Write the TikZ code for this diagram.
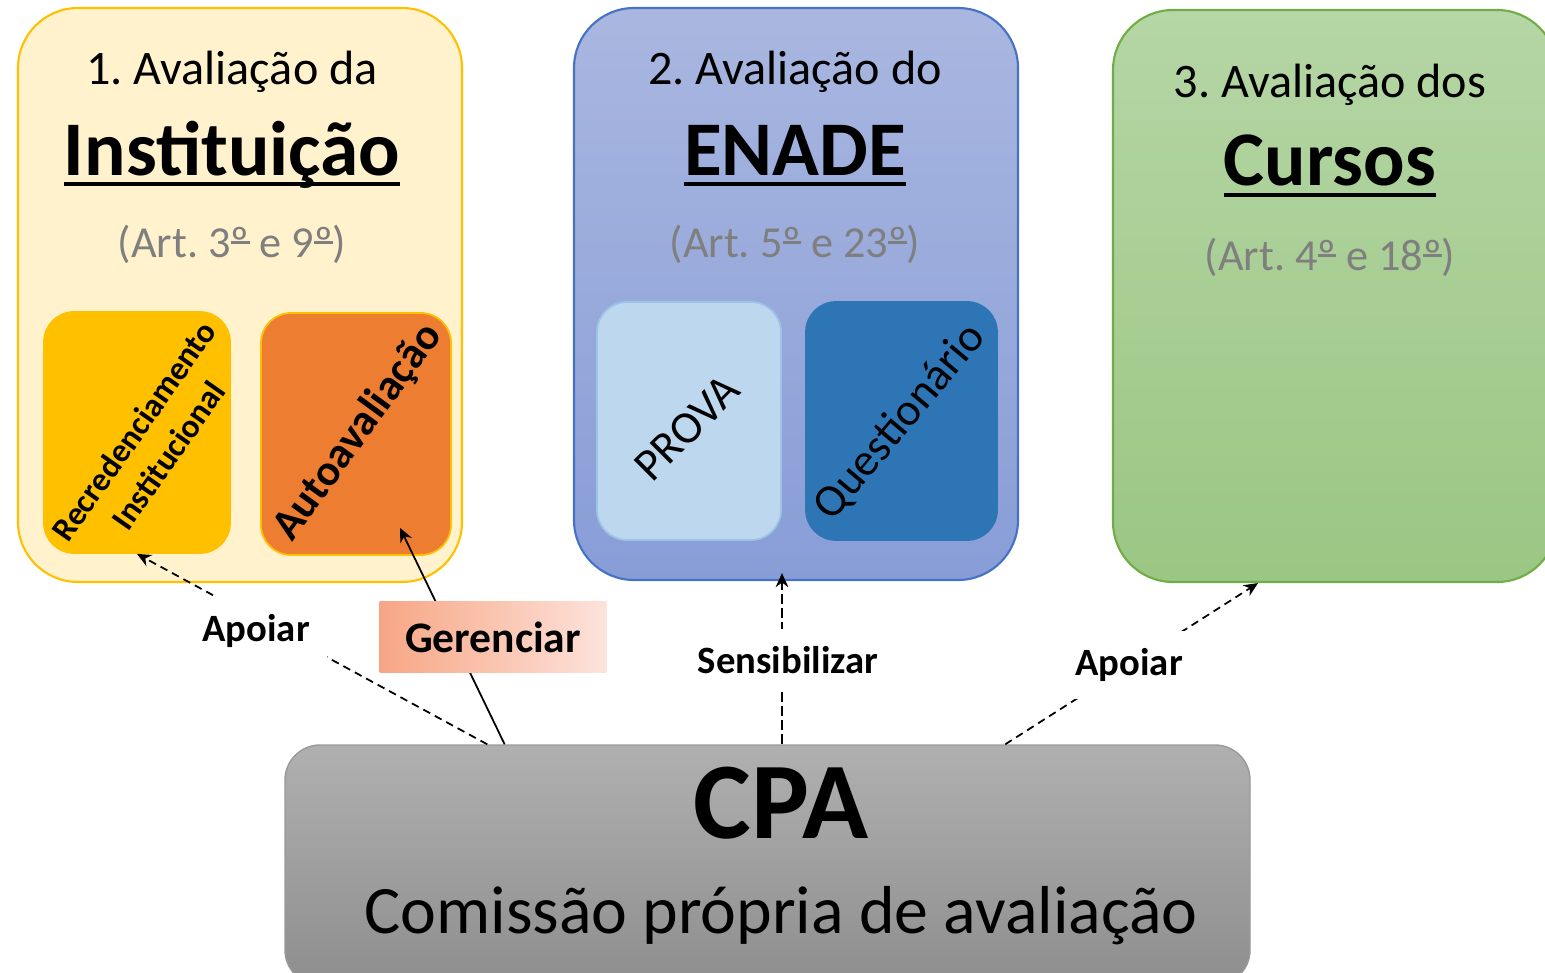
\documentclass[tikz,border=0pt]{standalone}
\usepackage{fontspec}
\setmainfont{Carlito}
\usetikzlibrary{arrows.meta,positioning,calc}
\frenchspacing

\definecolor{instfill}{HTML}{FFF2CC}
\definecolor{instline}{HTML}{FFC000}
\definecolor{autofill}{HTML}{ED7D31}
\definecolor{enadetop}{HTML}{A9B7E0}
\definecolor{enadebot}{HTML}{889DD7}
\definecolor{enadeline}{HTML}{4472C4}
\definecolor{provafill}{HTML}{BDD7EE}
\definecolor{provaline}{HTML}{9DC3E6}
\definecolor{questfill}{HTML}{2E75B6}
\definecolor{curtop}{HTML}{B5D6A5}
\definecolor{curbot}{HTML}{9BC683}
\definecolor{curline}{HTML}{70AD47}
\definecolor{cpatop}{HTML}{B0B0B0}
\definecolor{cpabot}{HTML}{8E8E8E}
\definecolor{artgray}{HTML}{7F7F7F}
\definecolor{gerleft}{HTML}{F7A685}
\definecolor{gerright}{HTML}{FDE3DB}

\newcommand{\thickul}[1]{\sbox0{#1}\rlap{\usebox0}\rule[-3.1pt]{\wd0}{1.15pt}}
% ordinal sign with its bar, as Calibri draws it
\newcommand{\ordo}{\sbox0{º}\rlap{\usebox0}\raisebox{0.30em}{\rule{\wd0}{0.06em}}}

\begin{document}
\begin{tikzpicture}[
  bigbox/.style={rectangle, rounded corners=0.6cm, line width=0.6pt,
    minimum width=4.44cm, minimum height=5.72cm},
  smallbox/.style={rectangle, rounded corners=0.3cm, line width=0.5pt},
  numtitle/.style={anchor=base, font=\fontsize{13.7}{16}\selectfont},
  bigtitle/.style={anchor=base, font=\bfseries\fontsize{22}{26}\selectfont},
  arttext/.style={anchor=base, text=artgray, font=\fontsize{12.6}{15}\selectfont},
  lbl/.style={fill=white, inner sep=5pt, font=\bfseries\fontsize{11}{13}\selectfont},
  gerbox/.style={rectangle, left color=gerleft, right color=gerright,
    minimum width=2.27cm, minimum height=0.71cm, font=\bfseries\fontsize{12.4}{14}\selectfont},
  ar/.style={-{Stealth[length=4pt,width=3.6pt]}, line width=0.5pt},
  dar/.style={ar, dash pattern=on 2.2pt off 1.5pt},
  sar/.style={ar, dash pattern=on 2.8pt off 1.2pt},
]
\useasboundingbox (0,0) rectangle (15.45,9.72);
\clip (0,0) rectangle (15.45,9.72);

%--- three evaluation boxes ---
\node[bigbox, fill=instfill, draw=instline, minimum height=5.74cm] (inst) at (2.40,6.77) {};
\node[bigbox, top color=enadetop, bottom color=enadebot, draw=enadeline] (enade) at (7.96,6.78) {};
\node[bigbox, top color=curtop, bottom color=curbot, draw=curline] (cursos) at (13.35,6.76) {};

%--- titles ---
\node[numtitle] (t1) at (2.32,8.87) {1. Avaliação da};
\node[bigtitle] (n1) at (2.32,7.97) {\thickul{Instituição}};
\node[arttext]  (a1) at (2.32,7.15) {(Art. 3\ordo{} e 9\ordo)};

\node[numtitle] (t2) at (7.95,8.87) {2. Avaliação do};
\node[bigtitle] (n2) at (7.95,7.97) {\thickul{ENADE}};
\node[arttext]  (a2) at (7.95,7.15) {(Art. 5\ordo{} e 23\ordo)};

\node[numtitle] (t3) at (13.30,8.74) {3. Avaliação dos};
\node[bigtitle] (n3) at (13.30,7.86) {\thickul{Cursos}};
\node[arttext]  (a3) at (13.30,7.02) {(Art. 4\ordo{} e 18\ordo)};

%--- inner boxes ---
\node[smallbox, fill=instline, draw=instline, minimum width=1.86cm, minimum height=2.41cm] (recred) at (1.37,5.395) {};
\node[smallbox, fill=autofill, draw=instline, minimum width=1.90cm, minimum height=2.42cm] (autoav) at (3.56,5.38) {};
\node[smallbox, fill=provafill, draw=provaline, minimum width=1.84cm, minimum height=2.38cm] (prova) at (6.89,5.51) {};
\node[smallbox, fill=questfill, draw=questfill, minimum width=1.91cm, minimum height=2.38cm] (quest) at (9.015,5.51) {};

\node[rotate=55, align=center, font=\bfseries\fontsize{9.5}{12}\selectfont] (recredtxt) at (1.51,5.29) {Recredenciamento\\Institucional};
\node[rotate=54, font=\bfseries\fontsize{12.4}{14}\selectfont] (autotxt) at (3.58,5.40) {Autoavaliação};
\node[rotate=45, font=\fontsize{13}{15}\selectfont] (provatxt) at (6.87,5.44) {PROVA};
\node[rotate=50, font=\fontsize{13}{15}\selectfont] (questtxt) at (9.00,5.50) {Questionário};

%--- CPA ---
\node[rectangle, rounded corners=0.35cm, top color=cpatop, bottom color=cpabot, draw=gray!80,
  minimum width=9.65cm, minimum height=2.40cm] (cpa) at (7.675,1.07) {};
\node[anchor=base, font=\bfseries\fontsize{31}{36}\selectfont] (cpatxt) at (7.81,1.34) {CPA};
\node[anchor=base, font=\fontsize{19.3}{23}\selectfont] (comtxt) at (7.81,0.39) {Comissão própria de avaliação};

%--- connectors from CPA ---
\coordinate (cA) at ($(cpa.north west)!.210!(cpa.north east)$);
\coordinate (cG) at ($(cpa.north west)!.228!(cpa.north east)$);
\coordinate (cS) at ($(cpa.north west)!.515!(cpa.north east)$);
\coordinate (cB) at ($(cpa.north west)!.746!(cpa.north east)$);

\draw[dar] (cA) -- node[lbl, pos=.66, yshift=-0.12cm] {Apoiar} (recred.south);
\draw[ar] (cG) -- ([shift={(0.44,0.28)}]autoav.south);
\node[gerbox] (ger) at (4.93,3.35) {Gerenciar};
\draw[sar] (cS) -- node[lbl, pos=.49, xshift=0.06cm] {Sensibilizar} ([yshift=0.08cm]cS |- enade.south);
\draw[dar] (cB) -- node[lbl, pos=.49] {Apoiar} ([xshift=-0.77cm]cursos.south);

\end{tikzpicture}
\end{document}
